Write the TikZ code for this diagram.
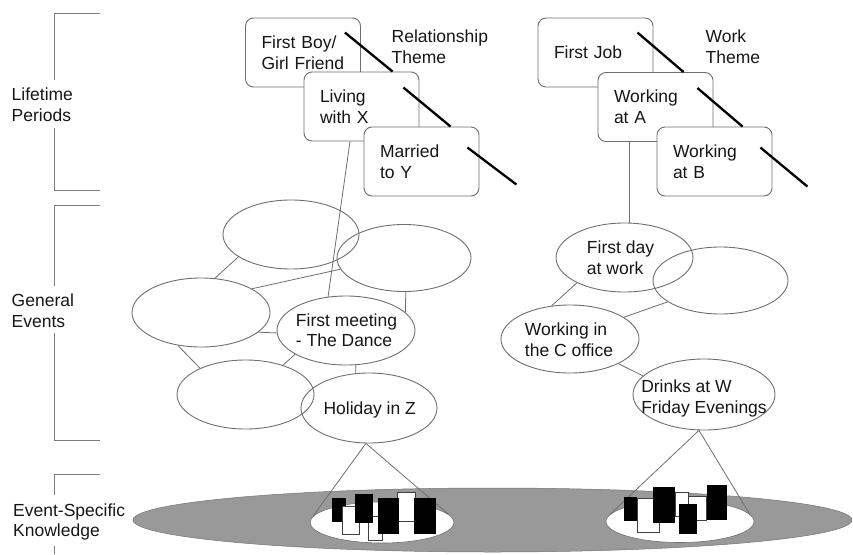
\documentclass[tikz,border=0pt]{standalone}
\usepackage{fontspec}
\setmainfont{Liberation Sans}
\usetikzlibrary{shapes.geometric,calc}

\definecolor{edge}{RGB}{110,110,110}
\definecolor{brk}{RGB}{125,125,125}
\definecolor{eskgray}{RGB}{153,153,153}
\definecolor{ink}{RGB}{22,22,22}
\newcommand\labfont{\fontsize{17.5}{20.8}\selectfont}

\tikzset{
  period/.style={draw=edge, line width=0.9pt, fill=white, rounded corners=8pt,
    minimum width=115pt, minimum height=69pt, text width=83pt,
    inner xsep=16pt, inner ysep=0pt, align=left, font=\labfont, text=ink},
  ev/.style={draw=edge, line width=0.9pt, ellipse, inner sep=0pt},
  evtxt/.style={align=left, inner sep=0pt, font=\labfont, text=ink},
  hdr/.style={align=left, inner sep=0pt, font=\labfont, text=ink},
  link/.style={draw=edge, line width=0.8pt},
  slash/.style={draw=black, line width=2.3pt},
  bracket/.style={draw=brk, line width=0.9pt},
  blk/.style={fill=black},
  wblk/.style={fill=white, draw=black!75, line width=0.7pt},
}

\begin{document}
\begin{tikzpicture}[x=1pt, y=-1pt]
\useasboundingbox (0,0) rectangle (853,554);

% ---- level brackets and their labels ----
\draw[bracket] (100,13.5) -- (54.5,13.5) -- (54.5,80);
\draw[bracket] (54.5,128) -- (54.5,190.5) -- (100,190.5);
\node[hdr, anchor=west] (lpLab) at (11.5,105) {Lifetime\\Periods};

\draw[bracket] (100,205) -- (54.5,205) -- (54.5,286);
\draw[bracket] (54.5,333) -- (54.5,440) -- (100,440);
\node[hdr, anchor=west] (geLab) at (11.5,311) {General\\Events};

\draw[bracket] (100,474) -- (54.5,474) -- (54.5,495);
\draw[bracket] (54.5,546) -- (54.5,554);
\node[hdr, anchor=west] (eskLab) at (13,522) {Event-Specific\\Knowledge};

% ---- lifetime periods: relationship theme ----
\node[period] (fb) at (303,52.5) {First Boy/\\Girl Friend};
\node[period] (lx) at (361.5,106.5) {Living\\with X};
\node[period] (my) at (421.5,161.5) {Married\\to Y};
\node[hdr, anchor=north west] (relT) at (391.5,29.5) {Relationship\\Theme};

\draw[slash] ($(fb.north east)+(-16,15)$) -- ($(lx.north west)+(89,0)$);
\draw[slash] ($(lx.north east)+(-16,16)$) -- ($(my.north west)+(87,0)$);
\draw[slash] ($(my.north east)+(-12,21)$) -- ++(49,37);

% ---- lifetime periods: work theme ----
\node[period] (fj) at (595.5,52.5) {First Job};
\node[period] (wa) at (655.5,107) {Working\\at A};
\node[period] (wb) at (714.5,161.5) {Working\\at B};
\node[hdr, anchor=north west] (workT) at (705.5,29.5) {Work\\Theme};

\draw[slash] ($(fj.north east)+(-16,15)$) -- ($(wa.north west)+(86,0)$);
\draw[slash] ($(wa.north east)+(-16,16)$) -- ($(wb.north west)+(86,0)$);
\draw[slash] ($(wb.north east)+(-12,21)$) -- ++(47,39);

% ---- general events: relationship cluster ----
\node[ev, minimum width=136pt, minimum height=69pt] (e1) at (291,234.5) {};
\node[ev, minimum width=134pt, minimum height=67pt] (e2) at (404,258) {};
\node[ev, minimum width=138pt, minimum height=69pt] (e3) at (201,312.5) {};
\node[ev, minimum width=138pt, minimum height=69pt] (fm) at (346,330.5) {};
\node[ev, minimum width=137pt, minimum height=69pt] (e5) at (245.5,394.5) {};
\node[ev, minimum width=136pt, minimum height=70pt] (hol) at (369,408) {};
\node[evtxt] (fmT) at (346.5,330.3) {First meeting\\- The Dance};
\node[evtxt] (holT) at (369.7,410.2) {Holiday in Z};

\draw[link] (e1.203) -- (e3.68);
\draw[link] (e3.25) -- (e2.190);
\draw[link] (e3.341) -- (fm.182);
\draw[link] (e3.235) -- (e5.150);
\draw[link] (fm.205) -- (e5.38);
\draw[link] (e2.273) -- (fm.17);
\draw[link] (fm.286) -- (hol.111);
\draw[link] ($(lx.south)+(-11.5,0)$) -- (fm.118);

% ---- general events: work cluster ----
\node[ev, minimum width=137pt, minimum height=69pt] (fd) at (624.5,257.5) {};
\node[ev, minimum width=135pt, minimum height=67pt] (er) at (720.5,280.5) {};
\node[ev, minimum width=138pt, minimum height=68pt] (wc) at (570,339) {};
\node[ev, minimum width=142pt, minimum height=71pt] (dw) at (704,394.5) {};
\node[evtxt] (fdT) at (620.5,257.8) {First day\\at work};
\node[evtxt] (wcT) at (569,339.7) {Working in\\the C office};
\node[evtxt] (dwT) at (704,398.2) {Drinks at W\\Friday Evenings};

\draw[link] (fd.208) -- (wc.119);
\draw[link] (wc.22) -- (er.202);
\draw[link] (wc.333) -- (dw.163);
\draw[link] ($(wa.south)+(-26.5,0)$) coordinate (wa1) -- (wa1 |- fd.north);

% ---- event-specific knowledge ----
\node[ellipse, fill=eskgray, draw=eskgray!75!black, line width=0.5pt,
      minimum width=719pt, minimum height=64pt, inner sep=0pt] (esk) at (492.5,520) {};
\node[ellipse, fill=white, draw=edge, line width=0.6pt,
      minimum width=144pt, minimum height=41pt, inner sep=0pt] (kl) at (382,522.5) {};
\node[ellipse, fill=white, draw=edge, line width=0.6pt,
      minimum width=148pt, minimum height=42pt, inner sep=0pt] (kr) at (680,521.5) {};

\draw[link] (kl.175.5) -- (hol.265) -- (kl.7.7);
\draw[link] (kr.174.7) -- (dw.262) -- (kr.6.1);

% memory records under "Holiday in Z"
\path[blk]  (332,498.3) rectangle (346,521.7);
\path[wblk] (342.3,506) rectangle (359.3,534.3);
\path[wblk] (368.3,516.7) rectangle (382.7,540.7);
\path[blk]  (355.3,494) rectangle (372.7,522.7);
\path[wblk] (397.3,492.7) rectangle (415,521.7);
\path[blk]  (377.7,498.3) rectangle (399.3,534);
\path[blk]  (414.3,498.3) rectangle (436,534);

% memory records under "Drinks at W"
\path[blk]  (624,497.3) rectangle (637.3,520.7);
\path[wblk] (637.3,498.3) rectangle (659.3,532.7);
\path[blk]  (653.3,487.3) rectangle (675,522.7);
\path[wblk] (675,492.7) rectangle (688.3,516);
\path[wblk] (688.3,496) rectangle (706.7,520);
\path[blk]  (678.7,504.3) rectangle (696.7,534);
\path[blk]  (706.7,485) rectangle (727.3,520);

\end{tikzpicture}
\end{document}
